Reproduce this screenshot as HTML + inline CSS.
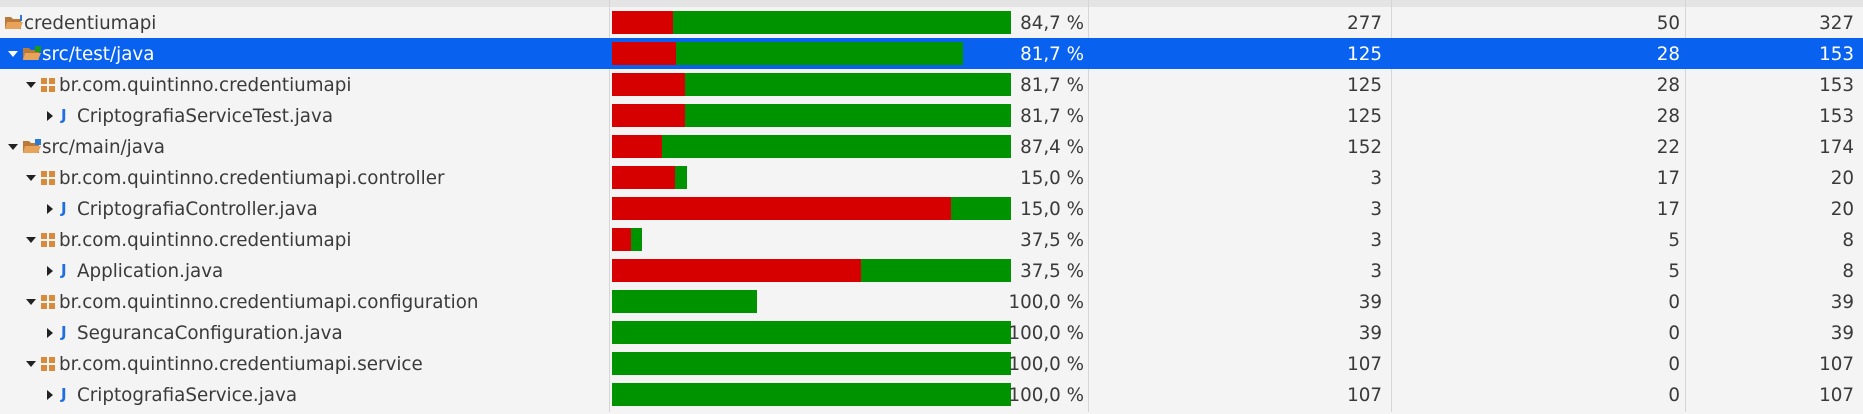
<!DOCTYPE html>
<html><head><meta charset="utf-8"><style>
html,body{margin:0;padding:0}
body{width:1863px;height:414px;background:#f4f4f4;position:relative;overflow:hidden;font-family:"DejaVu Sans","Liberation Sans",sans-serif;color:#3a3a3a}
.hdr{position:absolute;left:0;top:0;width:1863px;height:7px;background:#e4e4e4}
.sep{position:absolute;top:0;width:1px;height:412px;background:#d6d6d6}
.row{position:absolute;left:0;width:1863px;height:31px}
.row.sel{background:#0962ef;color:#fff}
.t{position:absolute;top:0;line-height:33px;font-size:18.3px;white-space:nowrap}
.n{position:absolute;top:0;line-height:33px;font-size:18.3px;text-align:right}
.bar{position:absolute;top:4px;height:23px}
</style></head><body>
<div class="hdr"></div>
<div class="sep" style="left:609px"></div>
<div class="sep" style="left:1088px"></div>
<div class="sep" style="left:1391px"></div>
<div class="sep" style="left:1685px"></div>
<div id="rows"></div>
<script>
const names=["credentiumapi","src/test/java","br.com.quintinno.credentiumapi","CriptografiaServiceTest.java","src/main/java","br.com.quintinno.credentiumapi.controller","CriptografiaController.java","br.com.quintinno.credentiumapi","Application.java","br.com.quintinno.credentiumapi.configuration","SegurancaConfiguration.java","br.com.quintinno.credentiumapi.service","CriptografiaService.java"];
const kinds=["project","folder","package","file","folder","package","file","package","file","package","file","package","file"];
const covered=[277,125,125,125,152,3,3,3,3,39,39,107,107];
const missed=[50,28,28,28,22,17,17,5,5,0,0,0,0];
const percents=["84,7 %","81,7 %","81,7 %","81,7 %","87,4 %","15,0 %","15,0 %","37,5 %","37,5 %","100,0 %","100,0 %","100,0 %","100,0 %"];
const parents=[-1,0,1,2,0,4,5,4,7,4,9,4,11];
const selected=1;
const BAR_X=612,BAR_W=399,ROW_H=31,TOP=7;
const total=i=>covered[i]+missed[i];
function maxSibling(i){let m=0;for(let j=0;j<names.length;j++)if(parents[j]===parents[i])m=Math.max(m,total(j));return m;}
function depth(i){let d=0;let p=parents[i];while(p>=0){d++;p=parents[p];}return d;}
const root=document.getElementById('rows');
for(let i=0;i<names.length;i++){
  const r=document.createElement('div');
  r.className='row'+(i===selected?' sel':'');
  r.style.top=(TOP+i*ROW_H)+'px';
  
  
  const d=depth(i);
  const sel=i===selected;
  let html='';
  if(d>0){
    const ax=8+(d-1)*18;
    if(kinds[i]==='file'){
      html+=`<svg style="position:absolute;left:${ax+3}px;top:11px" width="6" height="10"><path d="M0 0L6 5L0 10Z" fill="${sel?'#fff':'#222'}"/></svg>`;
    }else{
      html+=`<svg style="position:absolute;left:${ax}px;top:13px" width="10" height="6"><path d="M0 0L10 0L5 6Z" fill="${sel?'#fff':'#222'}"/></svg>`;
    }
  }
  const ix=d===0?5:23+(d-1)*18;
  if(kinds[i]==='project'||kinds[i]==='folder'){
    html+=`<svg style="position:absolute;left:${ix}px;top:8px" width="18" height="15"><path d="M0 2h6l2 2h8v10H0Z" fill="#b97a3a"/><path d="M2 7h16l-3 7H0Z" fill="#e8a35a"/>${kinds[i]==='folder'?'<rect x="12" y="0" width="6" height="6" fill="'+(i===1?'#1a9a1a':'#2a7bd8')+'"/>':'<rect x="15" y="0" width="2" height="6" fill="#2a7bd8"/>'}</svg>`;
  }else if(kinds[i]==='package'){
    html+=`<svg style="position:absolute;left:${ix}px;top:9px" width="14" height="14"><rect x="0" y="0" width="6" height="6" fill="#d98b3c"/><rect x="8" y="0" width="6" height="6" fill="#d98b3c"/><rect x="0" y="8" width="6" height="6" fill="#d98b3c"/><rect x="8" y="8" width="6" height="6" fill="#d98b3c"/></svg>`;
  }else{
    html+=`<span style="position:absolute;left:${ix+2}px;top:0;line-height:31px;font-size:15px;font-weight:bold;color:${sel?'#fff':'#1f6fe0'}">J</span>`;
  }
  const tx=kinds[i]==='file'?ix+18:ix+(kinds[i]==='package'?18:19);
  html+=`<span class="t" style="left:${tx}px">${names[i]}</span>`;
  const w=BAR_W*total(i)/maxSibling(i);
  const rw=w*missed[i]/total(i);
  html+=`<div class="bar" style="left:${BAR_X}px;width:${rw}px;background:#d60000"></div>`;
  html+=`<div class="bar" style="left:${BAR_X+rw}px;width:${w-rw}px;background:#009300"></div>`;
  html+=`<span class="n" style="left:964px;width:120px">${percents[i]}</span>`;
  html+=`<span class="n" style="left:1282px;width:100px">${covered[i]}</span>`;
  html+=`<span class="n" style="left:1580px;width:100px">${missed[i]}</span>`;
  html+=`<span class="n" style="left:1754px;width:100px">${total(i)}</span>`;
  r.innerHTML=html;
  root.appendChild(r);
}
</script>
</body></html>
